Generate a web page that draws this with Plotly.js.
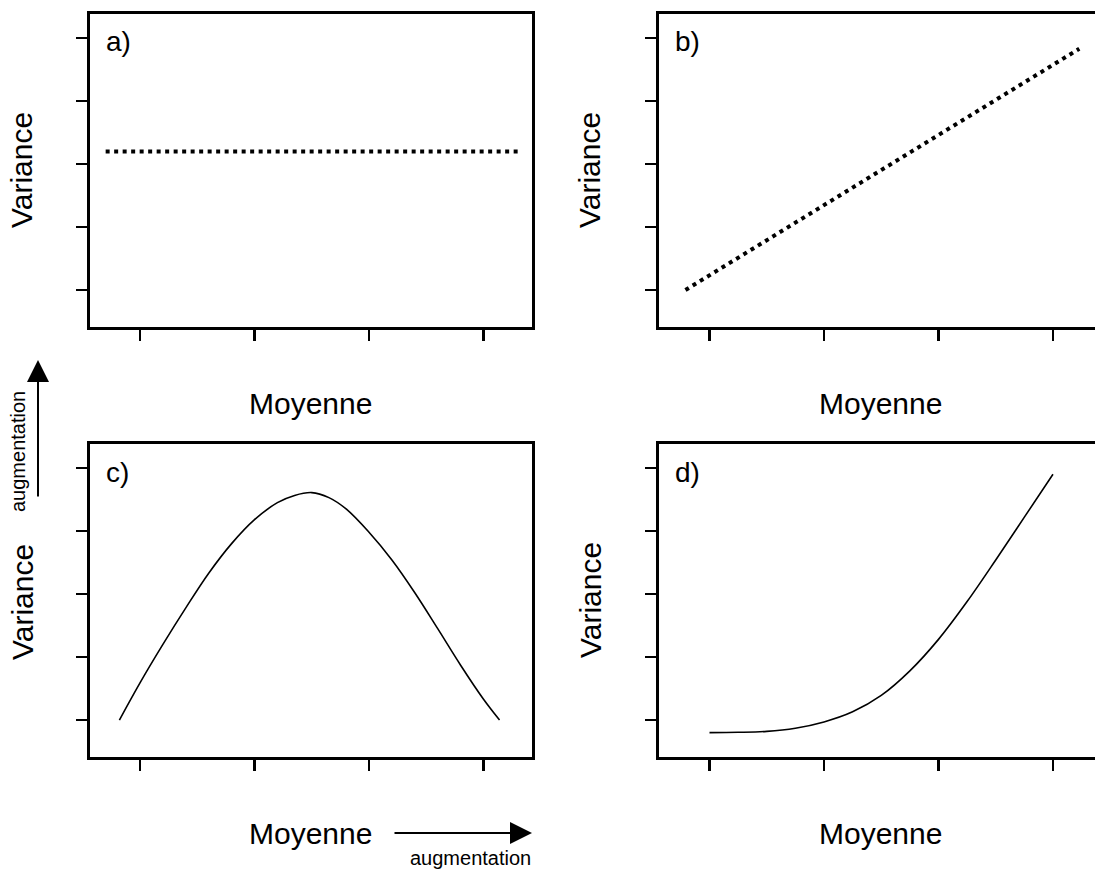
<!DOCTYPE html>
<html>
<head>
<meta charset="utf-8">
<script src="https://cdn.plot.ly/plotly-3.0.1.min.js"></script>
<style>html,body{margin:0;padding:0;background:#fff;overflow:hidden}</style>
</head>
<body>
<div id="chart" style="width:1095px;height:870px"></div>
<script>
// ---- data ----
const xTicks = [1, 2, 3, 4];
const yTicks = [1, 2, 3, 4, 5];

const aX = [0.7, 4.3];
const aY = [3.2, 3.2];

const bX = [0.79, 4.23];
const bY = [1.0, 4.83];

const cX = [0.82, 1.00, 1.20, 1.40, 1.60, 1.80, 2.00, 2.20, 2.35, 2.50, 2.65, 2.80, 3.00, 3.20, 3.40, 3.60, 3.80, 4.00, 4.14];
const cY = [1.00, 1.59, 2.20, 2.78, 3.33, 3.80, 4.18, 4.45, 4.565, 4.61, 4.53, 4.35, 3.98, 3.54, 3.02, 2.45, 1.87, 1.33, 1.00];

const dX = [1.00, 1.25, 1.50, 1.75, 2.00, 2.25, 2.50, 2.75, 3.00, 3.25, 3.50, 3.75, 4.00];
const dY = [0.80, 0.805, 0.82, 0.87, 0.97, 1.13, 1.39, 1.78, 2.28, 2.88, 3.54, 4.22, 4.90];

const panelLabels = ["a)", "b)", "c)", "d)"];
const xTitle = "Moyenne";
const yTitle = "Variance";
const arrowLabel = "augmentation";

// ---- layout helpers ----
const W = 1095, H = 870;
const px = v => v / W;
const py = v => 1 - v / H;
const FONT = "Liberation Sans, Arial, Helvetica, sans-serif";

function axisBase(extra) {
  return Object.assign({
    showgrid: false, zeroline: false, showline: true, linewidth: 3, linecolor: "#000",
    ticks: "outside", ticklen: 11, tickwidth: 2.5, tickcolor: "#000",
    showticklabels: false, fixedrange: true
  }, extra);
}

const xRangeL = [0.559, 4.419];
const xRangeR = [0.5546, 4.367];
const yRange = [0.421, 5.389];
const domXL = [px(89.5), px(531.5)];
const domXR = [px(658.5), 1];
const domYT = [py(326.5), py(13.5)];
const domYB = [py(756.5), py(443.5)];

const dotted = {color: "#000", width: 4, dash: "4px,4.5px"};
const solid = {color: "#000", width: 1.6, shape: "spline", smoothing: 1};

const traces = [
  {x: aX, y: aY, xaxis: "x", yaxis: "y", mode: "lines", line: dotted, hoverinfo: "skip"},
  {x: bX, y: bY, xaxis: "x2", yaxis: "y2", mode: "lines", line: dotted, hoverinfo: "skip"},
  {x: cX, y: cY, xaxis: "x3", yaxis: "y3", mode: "lines", line: solid, hoverinfo: "skip"},
  {x: dX, y: dY, xaxis: "x4", yaxis: "y4", mode: "lines", line: solid, hoverinfo: "skip"}
];

function txt(text, x, y, size, angle, xanchor) {
  return {text: text, xref: "paper", yref: "paper", x: px(x), y: py(y),
    xanchor: xanchor || "center", yanchor: "middle", showarrow: false,
    textangle: angle || 0, font: {family: FONT, size: size, color: "#000"}};
}

const annotations = [
  txt(panelLabels[0], 104, 42, 28, 0, "left"),
  txt(panelLabels[1], 673, 42, 28, 0, "left"),
  txt(panelLabels[2], 104, 472, 28, 0, "left"),
  txt(panelLabels[3], 673, 472, 28, 0, "left"),
  txt(xTitle, 310, 403, 30),
  txt(xTitle, 880, 403, 30),
  txt(xTitle, 310, 833, 30),
  txt(xTitle, 880, 833, 30),
  txt(yTitle, 22, 170, 30, -90),
  txt(yTitle, 590, 170, 30, -90),
  txt(yTitle, 22, 602, 30, -90),
  txt(yTitle, 590, 600, 30, -90),
  txt(arrowLabel, 18, 452, 20, -90),
  txt(arrowLabel, 470, 858, 20, 0),
  {text: "", xref: "paper", yref: "paper", x: px(38), y: py(360), showarrow: true,
   ax: 0, ay: 138, arrowhead: 2, arrowsize: 2.2, arrowwidth: 2, arrowcolor: "#000"},
  {text: "", xref: "paper", yref: "paper", x: px(532), y: py(833), showarrow: true,
   ax: -139, ay: 0, arrowhead: 2, arrowsize: 2.2, arrowwidth: 2, arrowcolor: "#000"}
];

const layout = {
  width: W, height: H, margin: {l: 0, r: 0, t: 0, b: 0},
  paper_bgcolor: "#fff", plot_bgcolor: "#fff", showlegend: false,
  font: {family: FONT, color: "#000"},
  xaxis:  axisBase({domain: domXL, range: xRangeL, tickvals: xTicks, anchor: "y",  mirror: true}),
  yaxis:  axisBase({domain: domYT, range: yRange, tickvals: yTicks, anchor: "x",  mirror: true}),
  xaxis2: axisBase({domain: domXR, range: xRangeR, tickvals: xTicks, anchor: "y2", mirror: true}),
  yaxis2: axisBase({domain: domYT, range: yRange, tickvals: yTicks, anchor: "x2", mirror: false}),
  xaxis3: axisBase({domain: domXL, range: xRangeL, tickvals: xTicks, anchor: "y3", mirror: true}),
  yaxis3: axisBase({domain: domYB, range: yRange, tickvals: yTicks, anchor: "x3", mirror: true}),
  xaxis4: axisBase({domain: domXR, range: xRangeR, tickvals: xTicks, anchor: "y4", mirror: true}),
  yaxis4: axisBase({domain: domYB, range: yRange, tickvals: yTicks, anchor: "x4", mirror: false}),
  annotations: annotations
};

Plotly.newPlot("chart", traces, layout, {staticPlot: true, displayModeBar: false});
</script>
</body>
</html>
